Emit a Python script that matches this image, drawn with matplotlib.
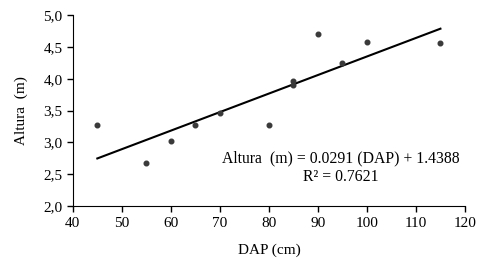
import numpy as np
import matplotlib.pyplot as plt

plt.rcParams['font.family'] = ['Liberation Serif', 'DejaVu Serif']

# data
dap = [45, 55, 60, 65, 70, 80, 85, 85, 90, 95, 100, 115]
altura = [3.27, 2.67, 3.02, 3.27, 3.46, 3.27, 3.97, 3.90, 4.70, 4.25, 4.57, 4.56]
slope = 0.0291
intercept = 1.4388
r2 = 0.7621
xticks = [40, 50, 60, 70, 80, 90, 100, 110, 120]
yticks = [2.0, 2.5, 3.0, 3.5, 4.0, 4.5, 5.0]

fig = plt.figure(figsize=(4.92, 2.73), dpi=100)
ax = fig.add_axes([0.148, 0.245, 0.797, 0.70])

ax.scatter(dap, altura, s=11, color='#3a3a3a', zorder=3)

# trend line
xl = np.array([min(dap), max(dap)])
ax.plot(xl, slope * xl + intercept, color='black', lw=1.5)

ax.set_xlim(40, 120)
ax.set_ylim(2.0, 5.0)
ax.set_xticks(xticks)
ax.set_yticks(yticks)
ax.set_yticklabels([f'{v:.1f}'.replace('.', ',') for v in yticks])
ax.tick_params(labelsize=11, length=4, width=1, direction='out')
for s in ['top', 'right']:
    ax.spines[s].set_visible(False)

ax.set_xlabel('DAP (cm)', fontsize=11, labelpad=10)
ax.set_ylabel('Altura  (m)', fontsize=11, labelpad=11)

ax.text(94.7, 2.60, f'Altura  (m) = {slope} (DAP) + {intercept}\nR² = {r2}',
        ha='center', va='center', fontsize=11.3, linespacing=1.25)

fig.savefig('out.png', dpi=100)
